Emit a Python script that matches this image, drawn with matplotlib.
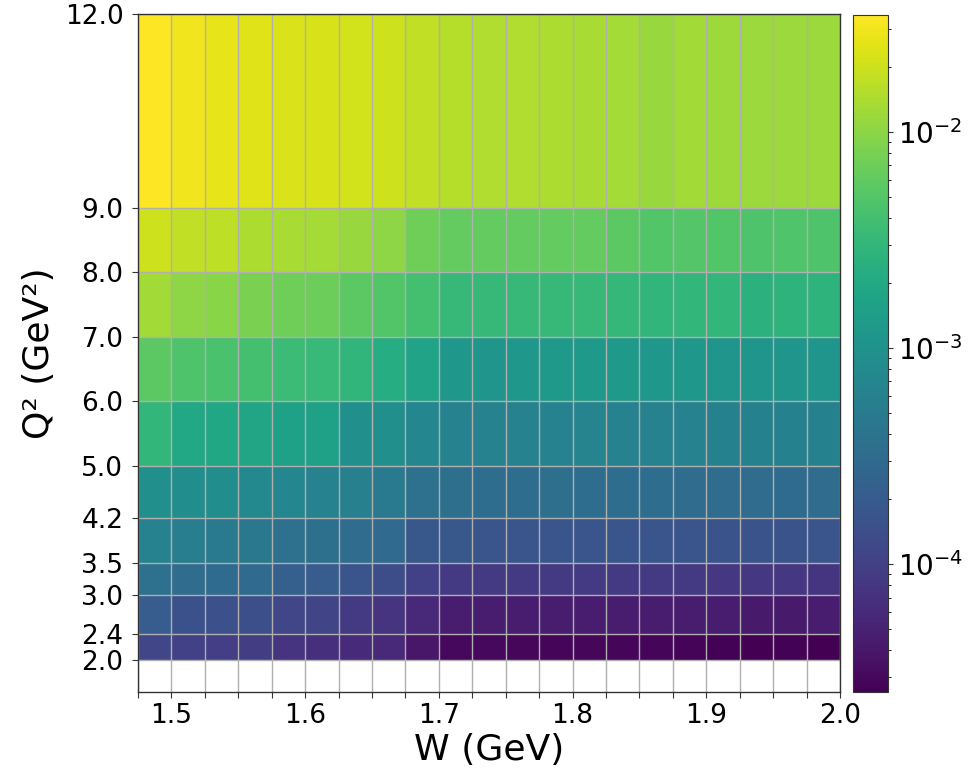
import numpy as np
import matplotlib
matplotlib.use("Agg")
import matplotlib.pyplot as plt
from matplotlib.colors import LogNorm

# Bin edges
W_edges = [1.475, 1.5, 1.525, 1.55, 1.575, 1.6, 1.625, 1.65, 1.675, 1.7, 1.725,
           1.75, 1.775, 1.8, 1.825, 1.85, 1.875, 1.9, 1.925, 1.95, 1.975, 2.0]
Q2_edges = [2.0, 2.4, 3.0, 3.5, 4.2, 5.0, 6.0, 7.0, 8.0, 9.0, 12.0]
W_tick_labels = ["1.5", "1.6", "1.7", "1.8", "1.9", "2.0"]

# Values per Q2 bin (rows, ascending Q2), one value per W bin
row_q2_2p0 = [1.17e-4, 1.01e-4, 9.4e-5, 9.1e-5, 7.6e-5, 7.0e-5, 6.1e-5, 5.7e-5, 4.0e-5, 3.0e-5,
              2.95e-5, 2.9e-5, 2.85e-5, 2.9e-5, 2.8e-5, 2.8e-5, 2.75e-5, 2.7e-5, 2.6e-5, 2.65e-5, 2.56e-5]
row_q2_2p4 = [2.07e-4, 1.55e-4, 1.50e-4, 1.45e-4, 1.17e-4, 1.08e-4, 8.7e-5, 7.6e-5, 5.7e-5, 4.6e-5,
              4.6e-5, 4.6e-5, 4.4e-5, 4.6e-5, 4.4e-5, 4.4e-5, 4.4e-5, 4.4e-5, 4.25e-5, 4.25e-5, 4.4e-5]
row_q2_3p0 = [3.7e-4, 3.2e-4, 3.1e-4, 3.0e-4, 2.23e-4, 2.07e-4, 1.67e-4, 1.35e-4, 1.01e-4, 8.7e-5,
              8.4e-5, 8.4e-5, 8.7e-5, 8.7e-5, 8.4e-5, 8.4e-5, 8.4e-5, 8.1e-5, 8.1e-5, 8.1e-5, 7.8e-5]
row_q2_3p5 = [6.1e-4, 5.3e-4, 4.9e-4, 4.6e-4, 3.7e-4, 3.56e-4, 3.2e-4, 2.98e-4, 1.8e-4, 1.8e-4,
              1.67e-4, 1.67e-4, 1.67e-4, 1.73e-4, 1.67e-4, 1.67e-4, 1.67e-4, 1.61e-4, 1.61e-4, 1.61e-4, 1.67e-4]
row_q2_4p2 = [9.4e-4, 8.8e-4, 8.8e-4, 7.6e-4, 7.1e-4, 6.1e-4, 5.7e-4, 4.9e-4, 3.7e-4, 3.44e-4,
              3.32e-4, 3.32e-4, 3.44e-4, 3.32e-4, 3.32e-4, 3.32e-4, 3.2e-4, 3.2e-4, 3.2e-4, 3.08e-4, 3.2e-4]
row_q2_5p0 = [2.99e-3, 1.94e-3, 1.87e-3, 1.80e-3, 1.56e-3, 1.56e-3, 9.4e-4, 9.4e-4, 7.1e-4, 6.1e-4,
              6.1e-4, 6.35e-4, 6.35e-4, 6.6e-4, 6.1e-4, 6.1e-4, 6.1e-4, 5.9e-4, 5.9e-4, 5.9e-4, 5.9e-4]
row_q2_6p0 = [5.7e-3, 4.6e-3, 4.4e-3, 4.0e-3, 3.45e-3, 3.33e-3, 2.88e-3, 2.24e-3, 1.68e-3, 1.17e-3,
              1.09e-3, 1.17e-3, 1.26e-3, 1.26e-3, 1.26e-3, 1.17e-3, 1.17e-3, 1.09e-3, 1.09e-3, 1.09e-3, 1.09e-3]
row_q2_7p0 = [1.26e-2, 1.02e-2, 9.5e-3, 8.2e-3, 7.1e-3, 6.85e-3, 5.7e-3, 4.95e-3, 4.0e-3, 3.2e-3,
              3.2e-3, 3.2e-3, 3.2e-3, 3.2e-3, 3.1e-3, 2.88e-3, 2.99e-3, 2.99e-3, 2.59e-3, 2.68e-3, 2.68e-3]
row_q2_8p0 = [2.02e-2, 1.75e-2, 1.69e-2, 1.41e-2, 1.36e-2, 1.31e-2, 1.13e-2, 1.02e-2, 7.1e-3, 6.15e-3,
              6.15e-3, 6.15e-3, 6.15e-3, 6.15e-3, 5.7e-3, 4.95e-3, 5.1e-3, 4.95e-3, 4.6e-3, 4.8e-3, 4.6e-3]
row_q2_9p0 = [3.47e-2, 3.0e-2, 2.69e-2, 2.42e-2, 2.33e-2, 2.25e-2, 2.09e-2, 2.02e-2, 1.75e-2, 1.57e-2,
              1.46e-2, 1.46e-2, 1.41e-2, 1.36e-2, 1.31e-2, 1.13e-2, 1.26e-2, 1.22e-2, 1.18e-2, 1.18e-2, 1.18e-2]

values = np.array([row_q2_2p0, row_q2_2p4, row_q2_3p0, row_q2_3p5, row_q2_4p2,
                   row_q2_5p0, row_q2_6p0, row_q2_7p0, row_q2_8p0, row_q2_9p0])

plt.rcParams['font.family'] = ['DejaVu Sans']

fig = plt.figure(figsize=(9.71, 7.72), dpi=100)
ax = fig.add_axes([138/971, 80/772, 702/971, 678/772])
cax = fig.add_axes([853/971, 80/772, 35/971, 677/772])

mesh = ax.pcolormesh(W_edges, Q2_edges, values, cmap='viridis',
                     norm=LogNorm(vmin=2.56e-5, vmax=3.47e-2))

ax.set_xlim(1.475, 2.0)
ax.set_ylim(1.5, 12.0)

ax.set_xticks(W_edges)
xlabels = []
for w in W_edges:
    s = f"{w:.1f}"
    xlabels.append(s if (abs(w * 10 - round(w * 10)) < 1e-6 and s in W_tick_labels) else "")
ax.set_xticklabels(xlabels)
ax.set_yticks(Q2_edges)
ax.set_yticklabels([f"{q:.1f}" for q in Q2_edges])

ax.tick_params(axis='both', labelsize=19, length=4.5, width=0.8, color='#333333')
ax.tick_params(axis='y', pad=6)
ax.grid(True, color='#b0b0b0', linewidth=1.0)

ax.set_xlabel("W (GeV)", fontsize=26, labelpad=3)
ax.set_ylabel("Q² (GeV²)", fontsize=26, labelpad=6)

for sp in ax.spines.values():
    sp.set_color('#333333')
    sp.set_linewidth(1.0)

cb = fig.colorbar(mesh, cax=cax)
cb.ax.tick_params(labelsize=20, color='#333333')
cb.outline.set_edgecolor('#333333')

fig.savefig("out.png", dpi=100)
